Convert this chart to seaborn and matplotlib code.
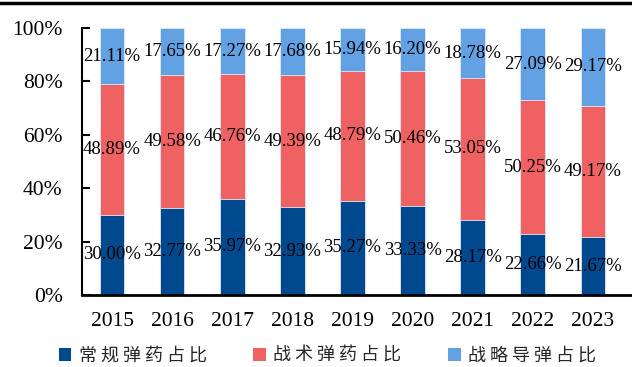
import matplotlib
matplotlib.use("Agg")
import matplotlib.pyplot as plt
import seaborn as sns
import pandas as pd
import numpy as np
from matplotlib.patches import Patch
from matplotlib.lines import Line2D

years = ["2015", "2016", "2017", "2018", "2019", "2020", "2021", "2022", "2023"]
conventional = [30.00, 32.77, 35.97, 32.93, 35.27, 33.33, 28.17, 22.66, 21.67]
tactical = [48.89, 49.58, 46.76, 49.39, 48.79, 50.46, 53.05, 50.25, 49.17]
strategic = [21.11, 17.65, 17.27, 17.68, 15.94, 16.20, 18.78, 27.09, 29.17]
series_names = ["常规弹药占比", "战术弹药占比", "战略导弹占比"]
yticks = [0, 20, 40, 60, 80, 100]

c_dark = "#00498f"
c_red = "#f06262"
c_light = "#63a1e5"

sns.set_theme(style="white")
plt.rcParams["font.family"] = ["Liberation Serif", "Noto Sans CJK SC", "DejaVu Sans"]

fig = plt.figure(figsize=(6.32, 3.67), dpi=100)
W, H = 632, 367
ax = fig.add_axes([82 / W, 1 - 295 / H, 550 / W, 267 / H])

df = pd.DataFrame({"year": years,
                   "c": conventional,
                   "t": tactical,
                   "s": strategic})
df["ct"] = df["c"] + df["t"]
df["cts"] = df["ct"] + df["s"]

edge = dict(edgecolor="#dfe9f6", linewidth=0.6)
sns.barplot(data=df, x="year", y="cts", color=c_light, width=0.41, ax=ax, saturation=1, **edge)
sns.barplot(data=df, x="year", y="ct", color=c_red, width=0.41, ax=ax, saturation=1, **edge)
sns.barplot(data=df, x="year", y="c", color=c_dark, width=0.41, ax=ax, saturation=1, **edge)

for i in range(len(years)):
    c, t, s = conventional[i], tactical[i], strategic[i]
    for val, mid in [(c, c / 2), (t, c + t / 2), (s, c + t + s / 2)]:
        ax.text(i, mid, f"{val:.2f}%", ha="center", va="center",
                fontsize=13.5, color="black", family="Liberation Serif")

ax.set_xlim(-0.5, 8.65)
ax.set_ylim(0, 100)
ax.set_yticks(yticks)
ax.set_yticklabels([f"{v}%" for v in yticks], fontsize=15.5, color="black")
ax.tick_params(axis="x", labelsize=15.5, colors="black", length=0, pad=12)
ax.tick_params(axis="y", direction="in", length=6, width=1.5, color="black", left=True, pad=14)
ax.set_xlabel("")
ax.set_ylabel("")
for sp in ["top", "right"]:
    ax.spines[sp].set_visible(False)
for sp in ["left", "bottom"]:
    ax.spines[sp].set_color("black")
    ax.spines[sp].set_linewidth(1.5)
ax.spines["bottom"].set_linewidth(2)

# top rule line
fig.add_artist(Line2D([0, 1], [1 - 2.5 / H, 1 - 2.5 / H], color="black", linewidth=2.5, transform=fig.transFigure))

handles = [Patch(facecolor=col, edgecolor="none") for col in [c_dark, c_red, c_light]]
labels = [" ".join(n) for n in series_names]
leg = fig.legend(handles, labels, loc="center", bbox_to_anchor=(0.518, 1 - 356 / H), ncol=3,
                 frameon=False, handlelength=0.7, handleheight=0.7, handletextpad=0.4,
                 columnspacing=2.6, prop={"family": ["Noto Sans CJK SC", "DejaVu Sans"], "size": 13})

fig.savefig("out.png", dpi=100)
